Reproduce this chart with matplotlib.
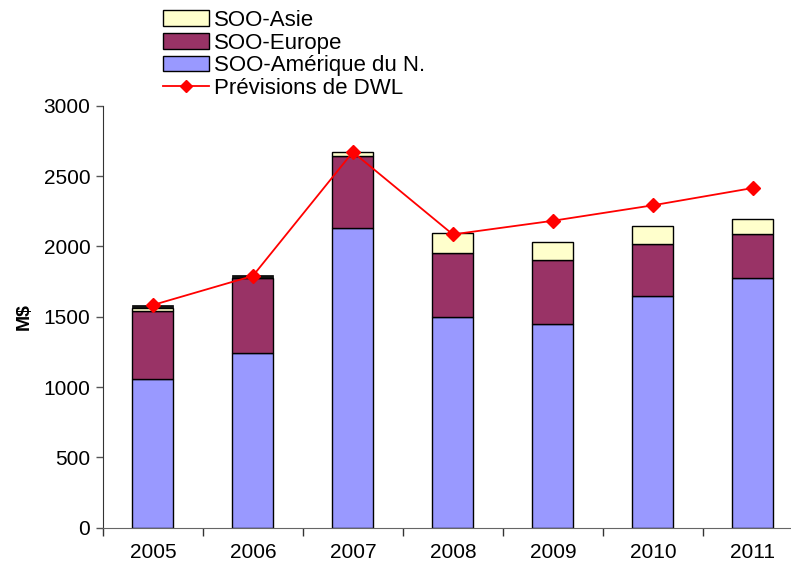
import numpy as np
import matplotlib
matplotlib.use("Agg")
import matplotlib.pyplot as plt
from matplotlib.patches import Patch
from matplotlib.lines import Line2D

plt.rcParams['font.family'] = ['Liberation Sans', 'DejaVu Sans']

# data (M$)
years = ['2005', '2006', '2007', '2008', '2009', '2010', '2011']
amerique = [1057, 1241, 2131, 1500, 1446, 1647, 1773]
europe = [483, 532, 513, 451, 455, 372, 317]
asie = [22, 0, 29, 142, 130, 128, 104]
autres = [21, 23, 0, 0, 0, 0, 0]
previsions = [1583, 1790, 2671, 2085, 2182, 2292, 2415]

c_am = '#9999FF'
c_eu = '#993366'
c_as = '#FFFFCC'
c_ot = '#111111'

fig = plt.figure(figsize=(7.91, 5.66), dpi=100)
ax = fig.add_axes([0.130, 0.0677, 0.885, 0.7455])

x = np.arange(len(years))
w = 0.41
am = np.array(amerique)
eu = np.array(europe)
asi = np.array(asie)
ot = np.array(autres)

ax.bar(x, am, w, color=c_am, edgecolor='black', linewidth=1)
ax.bar(x, eu, w, bottom=am, color=c_eu, edgecolor='black', linewidth=1)
ax.bar(x, asi, w, bottom=am + eu, color=c_as, edgecolor='black', linewidth=1)
ax.bar(x, ot, w, bottom=am + eu + asi, color=c_ot, edgecolor='black', linewidth=0.5)
ax.plot(x, previsions, color='#FF0000', lw=1.3, marker='D', ms=7,
        markerfacecolor='#FF0000', markeredgecolor='#FF0000')

ax.set_xlim(-0.5, len(years) - 0.5)
ax.set_ylim(0, 3000)
ax.set_yticks(np.arange(0, 3001, 500))
ax.set_xticks(x)
ax.set_xticklabels(years, fontsize=15)
ax.set_xticks(np.arange(-0.5, len(years), 1), minor=True)
ax.tick_params(axis='x', which='major', length=0, pad=11)
ax.tick_params(axis='x', which='minor', length=6, width=1, color='#333333')
ax.tick_params(axis='y', labelsize=15, length=5, width=1, color='#555555', pad=4)
for s in ['top', 'right']:
    ax.spines[s].set_visible(False)
ax.spines['left'].set_color('#333333')
ax.spines['bottom'].set_color('#666666')
ax.set_ylabel('M$', fontsize=14, fontweight='bold', labelpad=8)

handles = [
    Patch(facecolor=c_as, edgecolor='black', label='SOO-Asie'),
    Patch(facecolor=c_eu, edgecolor='black', label='SOO-Europe'),
    Patch(facecolor=c_am, edgecolor='black', label='SOO-Amérique du N.'),
    Line2D([0], [0], color='#FF0000', lw=1.3, marker='D', ms=6, label='Prévisions de DWL'),
]
fig.legend(handles=handles, loc='upper left', bbox_to_anchor=(0.186, 1.01),
           frameon=False, fontsize=16, labelspacing=0.08, handlelength=2.1,
           handleheight=0.7, handletextpad=0.2, borderpad=0.2)

fig.savefig('out.png', dpi=100)
